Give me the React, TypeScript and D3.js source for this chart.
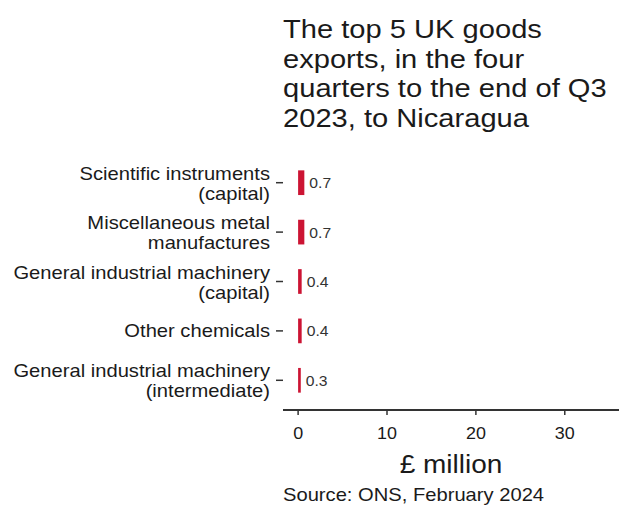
import React from "react";
import * as d3 from "d3";

const categories = [
  ["Scientific instruments", "(capital)"],
  ["Miscellaneous metal", "manufactures"],
  ["General industrial machinery", "(capital)"],
  ["Other chemicals"],
  ["General industrial machinery", "(intermediate)"],
];
const values = [0.7, 0.7, 0.4, 0.4, 0.3];
const valueLabels = ["0.7", "0.7", "0.4", "0.4", "0.3"];
const xTicks = [0, 10, 20, 30];
const titleLines = [
  "The top 5 UK goods",
  "exports, in the four",
  "quarters to the end of Q3",
  "2023, to Nicaragua",
];
const axisTitle = "£ million";
const source = "Source: ONS, February 2024";

const W = 619;
const H = 508;
const SX = 1.12;
const FONT = "'Liberation Sans', Arial, Helvetica, sans-serif";
const TEXT = "#1a1a1a";
const BAR = "#cc1433";

function T({ x, y, size, anchor = "start", fill = TEXT, children }: any) {
  return (
    <text
      transform={`translate(${x},${y}) scale(${SX},1)`}
      fontSize={size}
      textAnchor={anchor}
      fill={fill}
      fontFamily={FONT}
    >
      {children}
    </text>
  );
}

export default function App() {
  const keys = categories.map((c) => c.join(" "));
  const x = d3.scaleLinear().domain([-1.7, 36.1]).range([283, 619]);
  const y = d3
    .scaleBand<string>()
    .domain(keys)
    .range([158, 405])
    .paddingInner(0.5)
    .paddingOuter(0.25);
  const axisY = 410;
  const [x0, x1] = x.range();

  return (
    <svg
      width={W}
      height={H}
      style={{ position: "absolute", left: 0, top: 0, background: "#fff" }}
    >
      {titleLines.map((l, i) => (
        <T key={i} x={283} y={38 + i * 29.5} size={26}>
          {l}
        </T>
      ))}

      {keys.map((k, i) => {
        const c = (y(k) as number) + y.bandwidth() / 2;
        const lines = categories[i];
        const base = lines.length === 1 ? [c + 6.5] : [c - 3, c + 17];
        return (
          <g key={k}>
            {lines.map((l, j) => (
              <T key={j} x={270} y={base[j]} size={18} anchor="end">
                {l}
              </T>
            ))}
            <line x1={276} x2={283} y1={c} y2={c} stroke="#333" strokeWidth={1.5} />
            <rect
              x={x(0)}
              y={y(k)}
              width={x(values[i]) - x(0)}
              height={y.bandwidth()}
              fill={BAR}
            />
            <T x={x(values[i]) + 5} y={c + 5.5} size={14} fill="#333">
              {valueLabels[i]}
            </T>
          </g>
        );
      })}

      <line x1={x0} x2={x1} y1={axisY} y2={axisY} stroke="#333" strokeWidth={2} />
      {xTicks.map((t) => (
        <g key={t}>
          <line x1={x(t)} x2={x(t)} y1={axisY} y2={axisY + 5} stroke="#333" strokeWidth={1.5} />
          <T x={x(t)} y={438.5} size={16} anchor="middle">
            {t}
          </T>
        </g>
      ))}
      <T x={(x0 + x1) / 2} y={473} size={25} anchor="middle">
        {axisTitle}
      </T>
      <T x={283} y={501} size={18}>
        {source}
      </T>
    </svg>
  );
}
